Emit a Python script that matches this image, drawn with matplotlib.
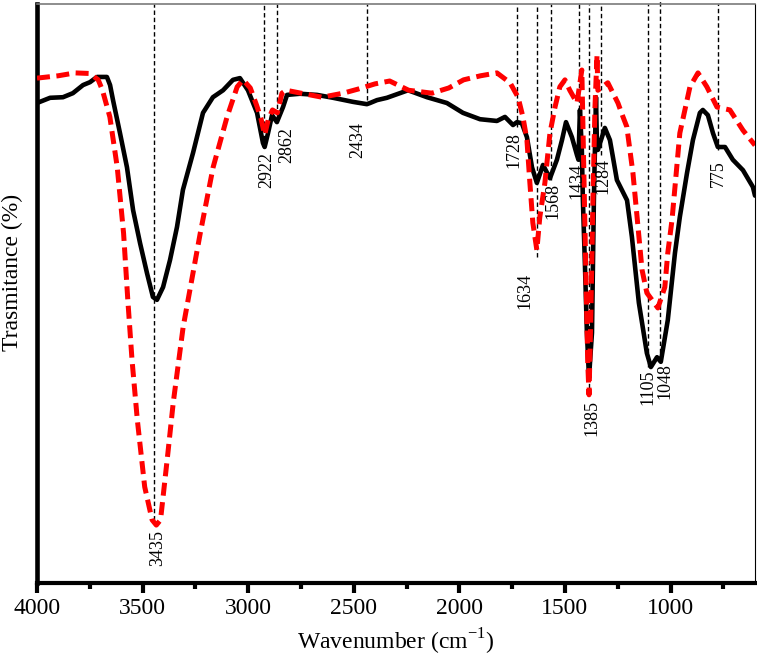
import matplotlib
matplotlib.use('Agg')
import matplotlib.pyplot as plt
from matplotlib.ticker import MultipleLocator

# ---------------- data ----------------
black_wn = [4000, 3938, 3877, 3830, 3782, 3749, 3716, 3669, 3654, 3640, 3607, 3574,
            3545, 3512, 3479, 3451, 3432, 3403, 3370, 3337, 3309, 3261, 3214, 3167,
            3119, 3072, 3039, 3001, 2958, 2930, 2922, 2906, 2887, 2864, 2835, 2816,
            2755, 2674, 2598, 2504, 2438, 2423, 2390, 2343, 2243, 2153, 2059, 1983,
            1902, 1822, 1784, 1746, 1727, 1704, 1680, 1656, 1633, 1604, 1571, 1538,
            1514, 1495, 1467, 1443, 1436, 1429, 1420, 1415, 1405, 1396, 1386, 1378,
            1372, 1363, 1353, 1348, 1344, 1311, 1287, 1273, 1254, 1206, 1183, 1150,
            1112, 1093, 1064, 1046, 1013, 979, 956, 922, 894, 861, 847, 823, 799, 776,
            742, 705, 657, 610, 600]
black_t = [82.9, 83.8, 83.9, 84.6, 86.0, 86.5, 87.4, 87.4, 86.0, 83.4, 77.7, 71.8,
           64.4, 58.7, 53.5, 49.4, 48.9, 51.1, 55.8, 61.5, 67.9, 74.3, 81.2, 83.9,
           85.1, 86.9, 87.2, 85.1, 81.2, 76.0, 75.3, 77.7, 80.8, 79.6, 82.2, 84.3,
           84.5, 84.3, 83.8, 83.1, 82.7, 82.9, 83.4, 83.8, 85.1, 83.9, 82.9, 81.2,
           80.1, 79.8, 80.5, 79.1, 79.6, 79.4, 77.0, 71.8, 69.1, 72.2, 69.9, 73.1,
           76.5, 79.6, 77.0, 73.9, 73.1, 81.7, 74.8, 66.1, 54.6, 43.2, 35.4, 40.0,
           43.2, 66.1, 83.9, 74.8, 74.8, 78.6, 76.5, 73.6, 69.6, 66.1, 59.8, 48.4,
           39.7, 37.3, 39.0, 38.2, 45.4, 57.0, 63.2, 70.8, 76.5, 81.2, 81.7, 80.8,
           77.7, 75.3, 75.3, 73.1, 71.3, 68.4, 66.9]

red_wn = [4000, 3900, 3820, 3750, 3710, 3690, 3655, 3620, 3590, 3570, 3550, 3525,
          3490, 3455, 3435, 3415, 3380, 3355, 3308, 3227, 3166, 3100, 3052, 3024,
          2990, 2960, 2940, 2922, 2905, 2885, 2862, 2840, 2820, 2750, 2650, 2550,
          2480, 2400, 2330, 2240, 2130, 2050, 1980, 1900, 1822, 1760, 1722, 1699,
          1680, 1666, 1652, 1633, 1619, 1595, 1571, 1547, 1524, 1500, 1477, 1443,
          1420, 1410, 1400, 1392, 1386, 1378, 1368, 1358, 1348, 1344, 1297, 1249,
          1225, 1207, 1178, 1154, 1135, 1112, 1088, 1060, 1027, 1013, 993, 956, 908,
          870, 828, 780, 719, 657, 600]
red_t = [87.2, 87.6, 88.1, 88.0, 86.9, 85.1, 80.5, 71.8, 60.4, 48.9, 38.5, 28.2,
         16.6, 10.9, 10.0, 10.9, 22.5, 31.1, 44.2, 60.4, 71.8, 80.5, 85.7, 86.9,
         85.5, 82.5, 80.3, 77.4, 80.0, 81.7, 81.2, 84.6, 85.1, 84.6, 83.9, 84.6,
         85.3, 86.2, 86.7, 85.1, 84.6, 85.5, 86.9, 87.6, 88.1, 86.4, 83.9, 80.5,
         76.5, 69.1, 62.2, 57.5, 63.2, 69.1, 77.7, 82.2, 85.7, 86.9, 85.1, 82.9,
         88.6, 70.0, 52.0, 38.0, 32.5, 45.0, 65.0, 82.0, 91.2, 85.1, 86.4, 82.9,
         80.5, 78.8, 70.8, 61.5, 54.1, 50.1, 48.9, 47.5, 51.1, 57.0, 62.7, 77.7, 85.7,
         88.1, 85.7, 82.2, 81.7, 78.2, 75.6]

peak_labels = ['3435', '2922', '2862', '2434', '1728', '1634', '1568', '1434',
               '1385', '1284', '1105', '1048', '775']
peak_line_wn = [3445, 2924, 2865, 2439, 1728, 1634, 1568, 1434, 1385, 1330, 1105, 1048, 775]
peak_line_end = [10.9, 75.3, 79.4, 83.4, 78.8, 56.3, 69.6, 73.0, 32.5, 73.9, 37.3, 38.5, 74.8]
peak_line_top = [100, 100, 100, 100, 100, 100, 100, 100, 100, 100, 100, 100.7, 100]
label_x = [3427, 2911, 2816, 2480, 1742, 1689, 1557, 1443, 1372, 1320, 1107, 1027, 775]
label_top = [9.2, 74.4, 78.8, 79.6, 77.9, 53.5, 69.1, 72.5, 31.6, 73.4, 36.8, 38.0, 73.1]

x_ticks = [4000, 3500, 3000, 2500, 2000, 1500, 1000]

# ---------------- figure ----------------
plt.rcParams['font.family'] = ['Liberation Serif', 'DejaVu Serif']
plt.rcParams['mathtext.fontset'] = 'custom'
plt.rcParams['mathtext.rm'] = 'Liberation Serif'

W, H = 757, 658
fig = plt.figure(figsize=(W / 100, H / 100), dpi=100)
ax = fig.add_axes([37 / W, 1 - 583 / H, 718 / W, 579 / H])

for xw, yend, ytop in zip(peak_line_wn, peak_line_end, peak_line_top):
    ax.plot([xw, xw], [yend, ytop], color='black', lw=1.0,
            linestyle=(0, (3.2, 2.0)), zorder=1, clip_on=False)

ax.plot(black_wn, black_t, color='black', lw=3.3, solid_joinstyle='round',
        solid_capstyle='round', zorder=3)
ax.plot(red_wn, red_t, color='#ff0000', lw=3.6, linestyle=(0, (2.6, 1.3)),
        dash_capstyle='butt', zorder=4)

for lab, lx, ly in zip(peak_labels, label_x, label_top):
    ax.text(lx, ly, lab, rotation=90, ha='center', va='top', fontsize=13,
            color='black', zorder=5)

ax.set_xlim(4000, 600)
ax.set_ylim(0, 100)
ax.set_xticks(x_ticks)
ax.xaxis.set_minor_locator(MultipleLocator(250))
ax.set_yticks([])

ax.tick_params(axis='x', which='major', direction='out', length=7, width=3,
               labelsize=17, pad=4, colors='black')
ax.tick_params(axis='x', which='minor', direction='out', length=4, width=3)

ax.spines['left'].set_linewidth(3.3)
ax.spines['bottom'].set_linewidth(3)
ax.spines['top'].set_linewidth(1.2)
ax.spines['top'].set_color('#7a7a7a')
ax.spines['right'].set_linewidth(0.8)

ax.set_xlabel(r'Wavenumber (cm$^{\mathregular{-1}}$)', fontsize=17)
ax.set_ylabel('Trasmitance (%)', fontsize=17)
ax.xaxis.set_label_coords(0.5, -0.075)
ax.yaxis.set_label_coords(-0.019, 0.537)

fig.savefig('out.png', dpi=100)
